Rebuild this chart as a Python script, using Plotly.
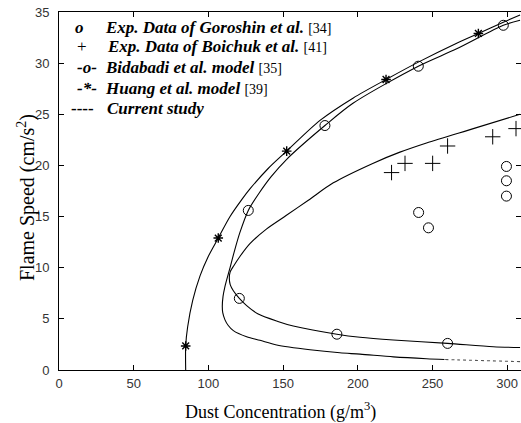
import plotly.graph_objects as go

# ---------------- data ----------------
# Experimental data of Goroshin et al. [34] (open circles)
goroshin_x = [240.7, 247.3, 299.5, 299.5, 299.5]
goroshin_y = [15.4, 13.9, 19.9, 18.5, 17.0]

# Experimental data of Boichuk et al. [41] (plus signs)
boichuk_x = [222.6, 231.6, 250.1, 260.1, 290.3, 305.9]
boichuk_y = [19.3, 20.2, 20.2, 21.9, 22.8, 23.6]

# Huang et al. model [39] (line + stars)
huang_x = [84.8, 84.8, 86.1, 89.5, 94.4, 99.9, 106.6, 114.5, 122.3, 127.8, 140.0,
           152.4, 174.7, 197.0, 218.9, 240.5, 266.2, 280.7, 297.4, 308.6]
huang_y = [0.0, 2.35, 4.2, 6.8, 9.2, 11.1, 12.9, 15.0, 16.65, 17.7, 19.7,
           21.4, 24.4, 26.6, 28.4, 30.1, 31.95, 32.9, 34.0, 34.7]
huang_star_x = [84.8, 106.6, 152.4, 218.9, 280.7]
huang_star_y = [2.35, 12.9, 21.4, 28.4, 32.9]

# Bidabadi et al. model [35] (C-shaped curve, steep upper branch)
bid_x = [308.6, 268.4, 258.0, 246.0, 223.8, 201.5, 188.0, 168.0, 145.7, 134.5,
         125.6, 116.7, 113.3, 111.1, 109.6, 109.3, 109.8, 111.0, 112.6, 114.5,
         117.0, 121.0, 126.7, 134.0, 142.0, 152.4, 178.0, 197.0, 240.5, 266.2,
         297.4, 308.6]
bid_y = [0.82, 0.98, 1.03, 1.10, 1.28, 1.55, 1.68, 1.98, 2.45, 2.9,
         3.25, 3.85, 4.35, 4.9, 5.6, 6.2, 7.2, 8.1, 9.0, 10.0,
         11.4, 13.4, 15.6, 17.3, 18.9, 20.6, 23.9, 26.1, 29.7, 31.4,
         33.7, 34.2]
bid_circle_x = [126.7, 178.0, 240.5, 297.4, 120.7, 186.0, 260.1]
bid_circle_y = [15.6, 23.9, 29.7, 33.7, 7.0, 3.5, 2.6]

# Current study (C-shaped curve, shallow upper branch)
cur_x = [308.6, 277.3, 246.0, 228.2, 210.0, 183.6, 166.9, 152.0, 139.0, 127.8,
         121.1, 117.0, 114.6, 114.0, 114.6, 116.7, 120.7, 125.6, 133.0, 146.5,
         156.8, 186.0, 201.5, 223.8, 260.1, 290.7, 308.6]
cur_y = [25.0, 23.6, 22.2, 21.3, 20.2, 18.3, 16.6, 15.1, 13.8, 12.35,
         11.1, 10.2, 9.6, 9.0, 8.35, 7.75, 7.0, 6.3, 5.5, 4.75,
         4.3, 3.5, 3.2, 2.93, 2.6, 2.28, 2.2]

x_ticks = [0, 50, 100, 150, 200, 250, 300]
y_ticks = [0, 5, 10, 15, 20, 25, 30, 35]

# ---------------- figure ----------------
W, H = 521, 423
L, R, T, B = 59, 0, 12, 53
X_MAX = (W - L - R) / 1.494


def pxx(xp):
    return (xp - L) / (W - L - R)


def pxy(yp):
    return (H - B - yp) / (H - T - B)


fig = go.Figure()

# Bidabadi curve: faint dotted tail of the lower branch, then the solid part
split = 2
fig.add_trace(go.Scatter(x=bid_x[:split + 1], y=bid_y[:split + 1], mode="lines",
                         line=dict(color="#555", width=1.1, dash="dot", shape="spline")))
fig.add_trace(go.Scatter(x=bid_x[split:], y=bid_y[split:], mode="lines",
                         line=dict(color="black", width=1.1, shape="spline", smoothing=0.8)))
fig.add_trace(go.Scatter(x=cur_x, y=cur_y, mode="lines",
                         line=dict(color="black", width=1.1, shape="spline", smoothing=0.8)))
fig.add_trace(go.Scatter(x=huang_x, y=huang_y, mode="lines",
                         line=dict(color="black", width=1.1, shape="spline", smoothing=0.8)))

fig.add_trace(go.Scatter(x=huang_star_x, y=huang_star_y, mode="markers",
                         marker=dict(symbol="asterisk-open", size=8, color="black",
                                     line=dict(color="black", width=1.4))))
fig.add_trace(go.Scatter(x=bid_circle_x, y=bid_circle_y, mode="markers",
                         marker=dict(symbol="circle-open", size=10, color="black",
                                     line=dict(color="black", width=1))))
fig.add_trace(go.Scatter(x=goroshin_x, y=goroshin_y, mode="markers",
                         marker=dict(symbol="circle-open", size=10, color="black",
                                     line=dict(color="black", width=1))))
fig.add_trace(go.Scatter(x=boichuk_x, y=boichuk_y, mode="markers", yaxis="y2",
                         marker=dict(symbol="cross-thin-open", size=11, color="black",
                                     line=dict(color="black", width=1))))

tickfont = dict(family="Liberation Sans, Arial", size=13, color="#333")
fig.update_layout(
    width=W, height=H,
    margin=dict(l=L, r=R, t=T, b=B, pad=0),
    paper_bgcolor="white", plot_bgcolor="white",
    showlegend=False,
    xaxis=dict(range=[0, X_MAX], tickvals=x_ticks, ticks="inside", ticklen=5,
               tickcolor="black", showline=True, linecolor="black", linewidth=1,
               mirror="ticks", showgrid=False, zeroline=False, tickfont=tickfont,
               ticklabelstandoff=1),
    yaxis=dict(range=[0, 35], tickvals=y_ticks, ticks="inside", ticklen=5,
               tickcolor="black", showline=True, linecolor="black", linewidth=1,
               mirror=False, showgrid=False, zeroline=False, tickfont=tickfont,
               ticklabelstandoff=6),
    yaxis2=dict(range=[0, 35], overlaying="y", side="right", matches="y",
                tickvals=y_ticks, ticks="inside", ticklen=5, tickcolor="black",
                showline=False, showgrid=False, zeroline=False,
                showticklabels=False),
)

serif = "Liberation Serif, Times New Roman, serif"
ann = []
# axis titles
ann.append(dict(text="Dust Concentration (g/m<sup>3</sup>)", x=pxx(280), y=pxy(411),
                xref="paper", yref="paper", showarrow=False, xanchor="center",
                yanchor="middle", font=dict(family=serif, size=18, color="black")))
ann.append(dict(text="Flame Speed (cm/s<sup>2</sup>)", x=pxx(27), y=pxy(198),
                xref="paper", yref="paper", showarrow=False, xanchor="center",
                yanchor="middle", textangle=-90,
                font=dict(family=serif, size=20, color="black")))

# in-plot legend (text)
legend_rows = [
    ("<b><i>o</i></b>", 79, 28, "<b><i>Exp. Data of Goroshin et al.</i></b>", "[34]", 103),
    ("+", 82, 47, "<b><i>Exp. Data of Boichuk et al.</i></b>", "[41]", 105),
    ("<b><i>-o-</i></b>", 87, 68, "<b><i>Bidabadi et al. model</i></b>", "[35]", 103),
    ("<b><i>-*-</i></b>", 87, 88, "<b><i>Huang et al. model</i></b>", "[39]", 103),
    ("<b>----</b>", 82, 108, "<b><i>Current study</i></b>", "", 105),
]
for sym, sx, sy, label, ref, tx in legend_rows:
    ann.append(dict(text=sym, x=pxx(sx), y=pxy(sy), xref="paper", yref="paper",
                    showarrow=False, xanchor="center", yanchor="middle",
                    font=dict(family=serif, size=17, color="black")))
    txt = label + (" <span style='font-size:14px'>" + ref + "</span>" if ref else "")
    ann.append(dict(text=txt, x=pxx(tx), y=pxy(sy), xref="paper", yref="paper",
                    showarrow=False, xanchor="left", yanchor="middle",
                    font=dict(family=serif, size=17, color="black")))

fig.update_layout(annotations=ann)
fig.write_html("out.html")
